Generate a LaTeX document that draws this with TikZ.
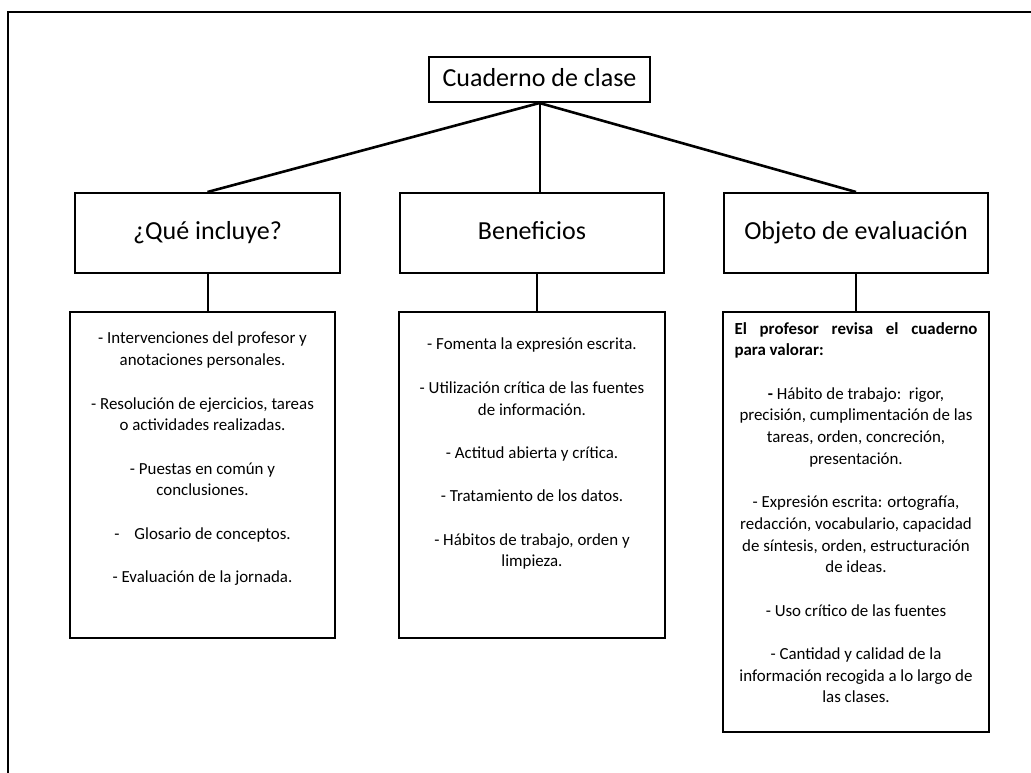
\documentclass[tikz,border=0pt]{standalone}
\usepackage{fontspec}
\setmainfont{Carlito}
\begin{document}
\begin{tikzpicture}[x=1pt,y=-1pt,
  hbox/.style={draw,line width=2pt,inner sep=0pt,text height=18pt,text depth=5pt,font=\fontsize{26}{30}\selectfont},
  listbox/.style={draw,line width=2pt,inner sep=0pt},
  body/.style={font=\fontsize{16.9}{21.7}\selectfont,align=center,inner sep=0pt,anchor=north},
  link/.style={line width=2.6pt},
  vlink/.style={line width=2pt}]
\useasboundingbox (0,0) rectangle (1031,772);
\draw[line width=2pt] (8,790) -- (8,12) -- (1050,12);
% top
\node[hbox,minimum width=221pt,minimum height=45pt] (top) at (539.5,79.5) {Cuaderno de clase};
% headings
\node[hbox,minimum width=265pt,minimum height=80pt] (inc) at (207.5,233) {¿Qué incluye?};
\node[hbox,minimum width=264pt,minimum height=80pt] (ben) at (532,233) {Beneficios};
\node[hbox,minimum width=264pt,minimum height=80pt] (obj) at (856,233) {Objeto de evaluación};
% lists
\node[listbox,minimum width=265pt,minimum height=326pt] (incL) at (202.5,475) {};
\node[listbox,minimum width=266pt,minimum height=326pt] (benL) at (532,475) {};
\node[listbox,minimum width=266pt,minimum height=420pt] (objL) at (856,522) {};
% connectors
\draw[link] (top.south) -- (inc.north);
\draw[link] (top.south) -- (obj.north);
\draw[vlink] (top.south) -- (top.south |- ben.north);
\draw[vlink] (inc.south) -- (inc.south |- incL.north);
\draw[vlink] ([xshift=5pt]ben.south) -- ([xshift=5pt]ben.south |- benL.north);
\draw[vlink] (obj.south) -- (obj.south |- objL.north);
% texts
\node[body] (incT) at (202.5,332) {- Intervenciones del profesor y\\ anotaciones personales.\\[21.7pt]
- Resolución de ejercicios, tareas\\ o actividades realizadas.\\[21.7pt]
- Puestas en común y\\ conclusiones.\\[21.7pt]
-\hspace{15pt}Glosario de conceptos.\\[21.7pt]
- Evaluación de la jornada.};
\node[body] (benT) at (532,338) {- Fomenta la expresión escrita.\\[21.7pt]
- Utilización crítica de las fuentes\\ de información.\\[21.7pt]
- Actitud abierta y crítica.\\[21.7pt]
- Tratamiento de los datos.\\[21.7pt]
- Hábitos de trabajo, orden y\\ limpieza.};
\node[body] (objT) at (856,322) {\makebox[243pt][s]{\bfseries El profesor revisa el cuaderno}\\
\makebox[243pt][l]{\bfseries para valorar:}\\[21.7pt]
\textbf{-} Hábito de trabajo:\ \ rigor,\\ precisión, cumplimentación de las\\ tareas, orden, concreción,\\ presentación.\\[21.7pt]
- Expresión escrita: ortografía,\\ redacción, vocabulario, capacidad\\ de síntesis, orden, estructuración\\ de ideas.\\[21.7pt]
- Uso crítico de las fuentes\\[21.7pt]
- Cantidad y calidad de la\\ información recogida a lo largo de\\ las clases.};
\end{tikzpicture}
\end{document}
